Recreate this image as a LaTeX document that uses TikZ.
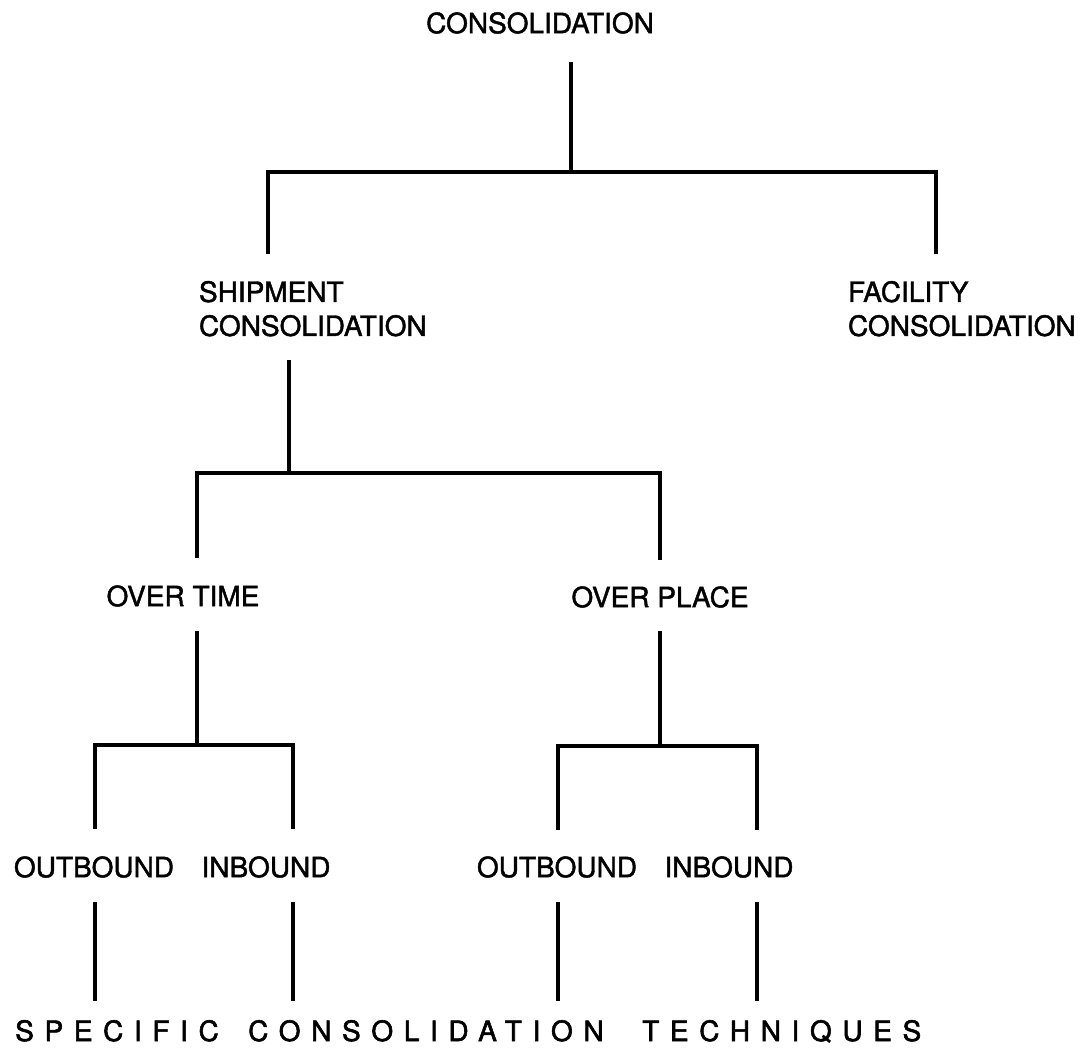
\documentclass[tikz,border=0pt]{standalone}
\usepackage{fontspec}
\setmainfont{TeX Gyre Heros}
\begin{document}
\begin{tikzpicture}[x=1pt,y=-1pt,
  lbl/.style={font=\fontsize{28}{34}\selectfont\addfontfeature{FakeBold=1.5}, inner sep=0pt, outer sep=0pt},
  spread/.style={font=\fontsize{28}{34}\selectfont\addfontfeature{LetterSpace=38,FakeBold=2}, inner sep=0pt, anchor=base west},
  branch/.style={line width=3.3pt, line join=miter}]
\useasboundingbox (0,0) rectangle (1087,1051);

% ---- labels ----
\node[lbl] (root) at (540,23) {CONSOLIDATION};
\node[lbl, anchor=north west, align=left] (ship) at (199,281) {SHIPMENT\\CONSOLIDATION};
\node[lbl, anchor=north west, align=left] (fac)  at (848,281) {FACILITY\\CONSOLIDATION};
\node[lbl] (time)  at (183,596) {OVER TIME};
\node[lbl] (place) at (660,597) {OVER PLACE};
\node[lbl] (tout) at (94,867)  {OUTBOUND};
\node[lbl] (tin)  at (266,867) {INBOUND};
\node[lbl] (pout) at (557,867) {OUTBOUND};
\node[lbl] (pin)  at (729,867) {INBOUND};
\node[spread] (w1) at (15,1041)  {SPECIFIC};
\node[spread] (w2) at (248,1041) {CONSOLIDATION};
\node[spread] (w3) at (642,1041) {TECHNIQUES};

% ---- junction points ----
\coordinate (s0top) at (571,62);   \coordinate (s0bot) at (571,172);
\coordinate (f0l) at (268,172);    \coordinate (f0r) at (936,172);
\coordinate (shipT) at (268,254);  \coordinate (facT) at (936,254);

\coordinate (s1top) at (289,360);  \coordinate (s1bot) at (289,473);
\coordinate (f1l) at (197,473);    \coordinate (f1r) at (660,473);
\coordinate (timeT) at (197,558);  \coordinate (placeT) at (660,560);

\coordinate (s2atop) at (197,631); \coordinate (s2abot) at (197,745);
\coordinate (f2al) at (95,745);    \coordinate (f2ar) at (293,745);
\coordinate (toutT) at (95,829);   \coordinate (tinT) at (293,829);

\coordinate (s2btop) at (660,631); \coordinate (s2bbot) at (660,746);
\coordinate (f2bl) at (558,746);   \coordinate (f2br) at (757,746);
\coordinate (poutT) at (558,830);  \coordinate (pinT) at (757,830);

% ---- tree ----
\draw[branch] (s0top) -- (s0bot);
\draw[branch] (shipT) -- (f0l) -- (f0r) -- (facT);

\draw[branch] (s1top) -- (s1bot);
\draw[branch] (timeT) -- (f1l) -- (f1r) -- (placeT);

\draw[branch] (s2atop) -- (s2abot);
\draw[branch] (toutT) -- (f2al) -- (f2ar) -- (tinT);

\draw[branch] (s2btop) -- (s2bbot);
\draw[branch] (poutT) -- (f2bl) -- (f2br) -- (pinT);

% ---- legs down to the caption ----
\foreach \x/\n in {95/a, 293/b, 558/c, 757/d}{
  \coordinate (leg\n top) at (\x,902);
  \coordinate (leg\n bot) at (\x,1001);
  \draw[branch] (leg\n top) -- (leg\n bot);
}
\end{tikzpicture}
\end{document}
